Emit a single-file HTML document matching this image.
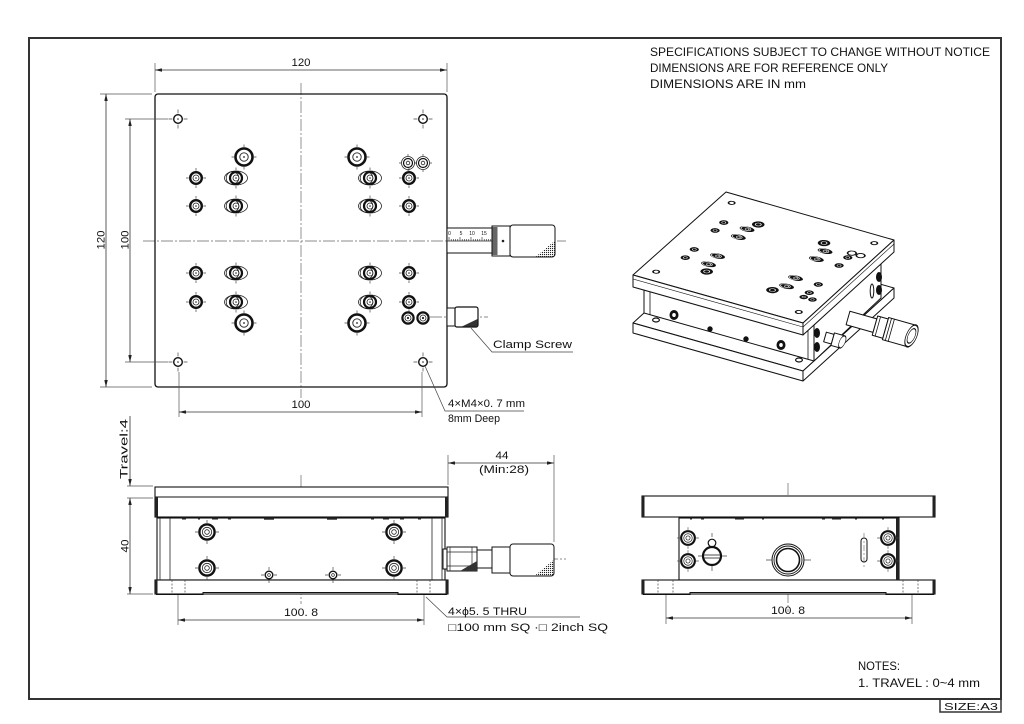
<!DOCTYPE html>
<html><head><meta charset="utf-8">
<style>
html,body{margin:0;padding:0;background:#fff;}
svg{display:block;}
text{font-family:"Liberation Sans","DejaVu Sans",sans-serif;fill:#111;}
</style></head><body>
<svg width="1024" height="724" viewBox="0 0 1024 724" xmlns="http://www.w3.org/2000/svg" xmlns:xlink="http://www.w3.org/1999/xlink">
<defs>
 <marker id="ar" viewBox="0 0 8 4" refX="8" refY="2" markerWidth="7" markerHeight="3.5" markerUnits="userSpaceOnUse" orient="auto-start-reverse"><path d="M0 0L8 2L0 4z" fill="#222"/></marker>
 <pattern id="kn" width="2" height="2" patternUnits="userSpaceOnUse"><rect width="1.1" height="1.1" fill="#222"/></pattern>
 <g id="hA" fill="none">
  <circle r="8.5" stroke="#111" stroke-width="2.6"/>
  <circle r="4.2" stroke="#222" stroke-width="0.9"/>
  <circle r="0.9" fill="#222"/>
  <path d="M-12.5 0H-9.8M9.8 0H12.5M0 -12.5V-9.8M0 9.8V12.5" stroke="#444" stroke-width="0.7"/>
 </g>
 <g id="hB" fill="none">
  <circle r="5.8" stroke="#111" stroke-width="2.4"/>
  <circle r="3" stroke="#222" stroke-width="0.8"/>
  <circle r="0.8" fill="#222"/>
  <path d="M-10 0H-7.3M7.3 0H10M0 -10V-7.3M0 7.3V10" stroke="#444" stroke-width="0.7"/>
 </g>
 <g id="hC" fill="none">
  <ellipse rx="11.5" ry="7" stroke="#222" stroke-width="0.8"/>
  <circle cx="-3.5" r="6.3" stroke="#222" stroke-width="0.8"/>
  <circle r="6" stroke="#111" stroke-width="2.2"/>
  <circle r="3" stroke="#222" stroke-width="0.8"/>
  <circle r="0.8" fill="#222"/>
  <path d="M0 -10.5V-8M0 8V10.5" stroke="#444" stroke-width="0.7"/>
 </g>
 <g id="hD" fill="none">
  <circle r="4.3" stroke="#111" stroke-width="1.4"/>
  <circle r="0.8" fill="#222"/>
  <path d="M-9.5 0H-5.6M5.6 0H9.5M0 -9.5V-5.6M0 5.6V9.5" stroke="#444" stroke-width="0.7"/>
 </g>
 <g id="hE" fill="none">
  <circle r="6.5" stroke="#222" stroke-width="0.8"/>
  <circle r="4.5" stroke="#111" stroke-width="1.2"/>
  <circle r="1.8" stroke="#222" stroke-width="0.8"/>
  <path d="M-9 0H-7M7 0H9M0 -9V-7M0 7V9" stroke="#444" stroke-width="0.7"/>
 </g>
 <g id="hF" fill="none">
  <circle r="5.6" stroke="#111" stroke-width="2.2"/>
  <circle r="3" stroke="#222" stroke-width="0.8"/>
  <circle r="1.1" fill="#222"/>
 </g>
 <g id="hS" fill="none">
  <circle r="7.6" stroke="#111" stroke-width="2.4"/>
  <circle r="4.7" stroke="#222" stroke-width="0.8"/>
  <circle r="2.3" stroke="#222" stroke-width="0.8"/>
  <path d="M-12 0H-9M9 0H12M0 -12V-9M0 9V12" stroke="#444" stroke-width="0.7"/>
 </g>
 <g id="hs" fill="none">
  <circle r="3.8" stroke="#111" stroke-width="1.4"/>
  <circle r="1.4" stroke="#222" stroke-width="0.7"/>
  <path d="M-8 0H-5M5 0H8M0 -8V-5M0 5V8" stroke="#444" stroke-width="0.7"/>
 </g>
 <g id="iA"><circle r="9.5" fill="#111"/><circle r="4.5" fill="none" stroke="#fff" stroke-width="1.4"/></g>
 <g id="iB"><circle r="7" fill="#111"/><circle r="3" fill="none" stroke="#fff" stroke-width="1.2"/></g>
 <g id="iC"><ellipse rx="12" ry="7.5" fill="#111"/><ellipse cx="-2" rx="8" ry="5.5" fill="none" stroke="#fff" stroke-width="1.2"/><circle r="3" fill="none" stroke="#fff" stroke-width="1.2"/></g>
 <g id="iD"><circle r="4.8" fill="#fff" stroke="#111" stroke-width="2.6"/></g>
 <g id="iE"><circle r="6.5" fill="#fff" stroke="#111" stroke-width="2.6"/></g>
 <g id="iF"><circle r="6.5" fill="#111"/><circle r="2.5" fill="none" stroke="#fff" stroke-width="1"/></g>
</defs>

<!-- Frame -->
<rect x="29" y="38" width="972" height="661" fill="none" stroke="#333" stroke-width="2"/>
<rect x="940" y="699" width="61" height="13" fill="none" stroke="#333" stroke-width="1.5"/>
<text x="944" y="710" font-size="10.5" textLength="54" lengthAdjust="spacingAndGlyphs">SIZE:A3</text>

<!-- Header text -->
<text x="650" y="56" font-size="12" textLength="340" lengthAdjust="spacingAndGlyphs">SPECIFICATIONS SUBJECT TO CHANGE WITHOUT NOTICE</text>
<text x="650" y="72" font-size="12" textLength="238" lengthAdjust="spacingAndGlyphs">DIMENSIONS ARE FOR REFERENCE ONLY</text>
<text x="650" y="88" font-size="12" textLength="156" lengthAdjust="spacingAndGlyphs">DIMENSIONS ARE IN mm</text>

<!-- Notes -->
<text x="858" y="670" font-size="11.5" textLength="42" lengthAdjust="spacingAndGlyphs">NOTES:</text>
<text x="858" y="687" font-size="11.5" textLength="122" lengthAdjust="spacingAndGlyphs">1. TRAVEL : 0~4 mm</text>

<!-- ================= TOP VIEW ================= -->
<g stroke="#666" stroke-width="0.7" fill="none" stroke-dasharray="12 2 2 2">
 <line x1="301" y1="83" x2="301" y2="398"/>
 <line x1="143" y1="241" x2="566" y2="241"/>
 <line x1="430" y1="317" x2="488" y2="317"/>
</g>
<rect x="155" y="94" width="292" height="293" rx="3" fill="none" stroke="#111" stroke-width="1.3"/>

<!-- dimensions top view -->
<g stroke="#555" stroke-width="0.7" fill="none">
 <line x1="155" y1="63" x2="155" y2="92"/>
 <line x1="447" y1="63" x2="447" y2="92"/>
 <line x1="100" y1="94" x2="152" y2="94"/>
 <line x1="100" y1="387" x2="152" y2="387"/>
 <line x1="125" y1="119" x2="168" y2="119"/>
 <line x1="125" y1="362" x2="168" y2="362"/>
 <line x1="179" y1="372" x2="179" y2="417"/>
 <line x1="422" y1="372" x2="422" y2="417"/>
</g>
<g stroke="#333" stroke-width="0.8" fill="none">
 <line x1="155" y1="70" x2="447" y2="70" marker-start="url(#ar)" marker-end="url(#ar)"/>
 <line x1="106" y1="94" x2="106" y2="387" marker-start="url(#ar)" marker-end="url(#ar)"/>
 <line x1="130" y1="119" x2="130" y2="362" marker-start="url(#ar)" marker-end="url(#ar)"/>
 <line x1="179" y1="412" x2="422" y2="412" marker-start="url(#ar)" marker-end="url(#ar)"/>
</g>
<text x="301" y="66" font-size="11" text-anchor="middle" textLength="19" lengthAdjust="spacingAndGlyphs">120</text>
<text transform="translate(104.5,240) rotate(-90)" font-size="11" text-anchor="middle" textLength="19" lengthAdjust="spacingAndGlyphs">120</text>
<text transform="translate(128.5,240) rotate(-90)" font-size="11" text-anchor="middle" textLength="19" lengthAdjust="spacingAndGlyphs">100</text>
<text x="301" y="408" font-size="11" text-anchor="middle" textLength="19" lengthAdjust="spacingAndGlyphs">100</text>

<!-- holes top view -->
<use xlink:href="#hA" x="244" y="157"/><use xlink:href="#hA" x="244" y="323"/>
<use xlink:href="#hA" x="357" y="157"/><use xlink:href="#hA" x="357" y="323"/>
<use xlink:href="#hB" x="196" y="178"/><use xlink:href="#hB" x="196" y="206"/>
<use xlink:href="#hB" x="196" y="273"/><use xlink:href="#hB" x="196" y="302"/>
<use xlink:href="#hB" x="409" y="178"/><use xlink:href="#hB" x="409" y="206"/>
<use xlink:href="#hB" x="409" y="273"/><use xlink:href="#hB" x="409" y="302"/>
<use xlink:href="#hC" x="236" y="178"/><use xlink:href="#hC" x="236" y="206"/>
<use xlink:href="#hC" x="236" y="273"/><use xlink:href="#hC" x="236" y="302"/>
<use xlink:href="#hC" x="370" y="178"/><use xlink:href="#hC" x="370" y="206"/>
<use xlink:href="#hC" x="370" y="273"/><use xlink:href="#hC" x="370" y="302"/>
<use xlink:href="#hD" x="178" y="119"/><use xlink:href="#hD" x="423" y="119"/>
<use xlink:href="#hD" x="178" y="362"/><use xlink:href="#hD" x="423" y="362"/>
<use xlink:href="#hE" x="408" y="163"/><use xlink:href="#hE" x="423" y="163"/>
<use xlink:href="#hF" x="408" y="318"/><use xlink:href="#hF" x="423" y="318"/>

<!-- leader M4 -->
<path d="M425 366 L445 411 H524" fill="none" stroke="#444" stroke-width="0.7"/>
<text x="448" y="407" font-size="11" textLength="77" lengthAdjust="spacingAndGlyphs">4×M4×0. 7 mm</text>
<text x="448" y="422" font-size="11" textLength="52" lengthAdjust="spacingAndGlyphs">8mm Deep</text>

<!-- micrometer top view -->
<g stroke="#111" stroke-width="1" fill="#fff">
 <rect x="447" y="228" width="45" height="25"/>
 <rect x="492" y="226" width="18" height="30"/>
 <rect x="510" y="225" width="45" height="32" rx="3"/>
</g>
<rect x="492.5" y="227" width="5" height="28" fill="#666"/>
<line x1="492" y1="226" x2="492" y2="256" stroke="#111" stroke-width="1"/>
<circle cx="503" cy="241" r="1.3" fill="#222"/>
<polygon points="536,256.5 554.5,256.5 554.5,241" fill="url(#kn)"/>
<line x1="447" y1="241" x2="492" y2="241" stroke="#222" stroke-width="0.8"/>
<path d="M449 241V237M451.2 241V239M453.4 241V239M455.6 241V239M457.8 241V239M460 241V237M462.2 241V239M464.4 241V239M466.6 241V239M468.8 241V239M471 241V237M473.2 241V239M475.4 241V239M477.6 241V239M479.8 241V239M482 241V237M484.2 241V239M486.4 241V239M488.6 241V239M490.8 241V239" stroke="#222" stroke-width="0.6"/>
<g font-size="5" text-anchor="middle">
 <text x="449.5" y="235">0</text><text x="461" y="235">5</text><text x="472" y="235">10</text><text x="484" y="235">15</text>
</g>

<!-- clamp screw top view -->
<rect x="447" y="308" width="8" height="18" fill="#fff" stroke="#111" stroke-width="1"/>
<rect x="455" y="307" width="23" height="20" rx="2" fill="#fff" stroke="#111" stroke-width="1.2"/>
<polygon points="462,326.5 477.5,326.5 477.5,319" fill="#333"/>
<path d="M471 328 L492 352 H573" fill="none" stroke="#444" stroke-width="0.7"/>
<text x="493" y="348" font-size="11" textLength="79" lengthAdjust="spacingAndGlyphs">Clamp Screw</text>

<!-- ================= FRONT VIEW ================= -->
<g stroke="#666" stroke-width="0.7" fill="none" stroke-dasharray="12 2 2 2">
 <line x1="301" y1="475" x2="301" y2="604"/>
 <line x1="438" y1="559" x2="566" y2="559"/>
</g>
<g stroke="#555" stroke-width="0.7" fill="none">
 <line x1="127" y1="486" x2="153" y2="486"/>
 <line x1="127" y1="498" x2="153" y2="498"/>
 <line x1="127" y1="594" x2="153" y2="594"/>
 <line x1="178" y1="575" x2="178" y2="625"/>
 <line x1="424" y1="575" x2="424" y2="625"/>
 <line x1="448" y1="455" x2="448" y2="485"/>
 <line x1="554" y1="455" x2="554" y2="542"/>
</g>
<g stroke="#333" stroke-width="0.8" fill="none">
 <line x1="130" y1="416" x2="130" y2="486" marker-end="url(#ar)"/>
 <line x1="130" y1="498" x2="130" y2="594" marker-start="url(#ar)" marker-end="url(#ar)"/>
 <line x1="178" y1="620" x2="424" y2="620" marker-start="url(#ar)" marker-end="url(#ar)"/>
 <line x1="448" y1="463" x2="554" y2="463" marker-start="url(#ar)" marker-end="url(#ar)"/>
</g>
<text transform="translate(127.5,449) rotate(-90)" font-size="11" text-anchor="middle" textLength="60" lengthAdjust="spacingAndGlyphs">Travel:4</text>
<text transform="translate(128.5,546) rotate(-90)" font-size="11" text-anchor="middle" textLength="13" lengthAdjust="spacingAndGlyphs">40</text>
<text x="301" y="616" font-size="11" text-anchor="middle" textLength="34" lengthAdjust="spacingAndGlyphs">100. 8</text>
<text x="502" y="459" font-size="11" text-anchor="middle" textLength="13" lengthAdjust="spacingAndGlyphs">44</text>
<text x="504" y="473" font-size="11" text-anchor="middle" textLength="50" lengthAdjust="spacingAndGlyphs">(Min:28)</text>

<g stroke="#111" stroke-width="1.1" fill="#fff">
 <rect x="155" y="487" width="293" height="30"/>
 <rect x="157" y="518" width="288" height="62"/>
 <rect x="155" y="580" width="293" height="14"/>
</g>
<line x1="155" y1="497" x2="448" y2="497" stroke="#111" stroke-width="1"/>
<g fill="#222">
 <rect x="155" y="497" width="3" height="20"/><rect x="445" y="497" width="3" height="20"/>
 <rect x="155" y="580" width="2.5" height="14"/><rect x="445.5" y="580" width="2.5" height="14"/>
 <rect x="182" y="517.5" width="4" height="2"/><rect x="198" y="517.5" width="2" height="2"/>
 <rect x="212" y="517.5" width="6" height="2"/><rect x="228" y="517.5" width="3" height="2"/>
 <rect x="264" y="517.5" width="10" height="2.2"/><rect x="327" y="517.5" width="10" height="2.2"/>
 <rect x="371" y="517.5" width="3" height="2"/><rect x="383" y="517.5" width="6" height="2"/>
 <rect x="400" y="517.5" width="4" height="2"/><rect x="418" y="517.5" width="3" height="2"/>
</g>
<g stroke="#222" stroke-width="0.8">
 <line x1="160" y1="518" x2="160" y2="580"/><line x1="170" y1="518" x2="170" y2="580"/>
 <line x1="432" y1="518" x2="432" y2="580"/><line x1="442" y1="518" x2="442" y2="580"/>
</g>
<path d="M156 594.5H203V592.5H398V594.5H447" fill="none" stroke="#111" stroke-width="1"/>
<g stroke="#444" stroke-width="0.7" stroke-dasharray="2 1.5">
 <line x1="172" y1="580" x2="172" y2="594"/><line x1="185" y1="580" x2="185" y2="594"/>
 <line x1="417" y1="580" x2="417" y2="594"/><line x1="430" y1="580" x2="430" y2="594"/>
</g>
<use xlink:href="#hS" x="207" y="532"/><use xlink:href="#hS" x="207" y="568"/>
<use xlink:href="#hS" x="394" y="532"/><use xlink:href="#hS" x="394" y="568"/>
<use xlink:href="#hs" x="269" y="575"/><use xlink:href="#hs" x="333" y="575"/>

<!-- micrometer front view -->
<g stroke="#111" stroke-width="1" fill="#fff">
 <rect x="443" y="549" width="4" height="20"/>
 <rect x="447" y="547" width="30" height="24"/>
 <rect x="477" y="550" width="15" height="18"/>
 <rect x="492" y="547" width="18" height="26"/>
 <rect x="510" y="544" width="44" height="32" rx="3"/>
</g>
<g stroke="#222" stroke-width="0.7">
 <line x1="450" y1="547" x2="450" y2="571"/><line x1="472" y1="547" x2="472" y2="571"/>
 <line x1="447" y1="552" x2="477" y2="552"/><line x1="447" y1="566" x2="477" y2="566"/>
</g>
<polygon points="460,571 477,571 477,561" fill="#333"/>
<polygon points="535,575.5 553.5,575.5 553.5,560" fill="url(#kn)"/>
<path d="M426 597 L447 617 H580" fill="none" stroke="#444" stroke-width="0.7"/>
<text x="448" y="615" font-size="11" textLength="79" lengthAdjust="spacingAndGlyphs">4×ϕ5. 5 THRU</text>
<text x="448" y="631" font-size="11" textLength="160" lengthAdjust="spacingAndGlyphs">□100 mm SQ ·□ 2inch SQ</text>

<!-- ================= SIDE VIEW ================= -->
<g stroke="#666" stroke-width="0.7" fill="none" stroke-dasharray="12 2 2 2">
 <line x1="788" y1="483" x2="788" y2="612"/>
</g>
<g stroke="#555" stroke-width="0.7" fill="none">
 <line x1="666" y1="586" x2="666" y2="624"/>
 <line x1="912" y1="586" x2="912" y2="624"/>
</g>
<line x1="666" y1="618" x2="912" y2="618" stroke="#333" stroke-width="0.8" marker-start="url(#ar)" marker-end="url(#ar)"/>
<text x="788" y="614" font-size="11" text-anchor="middle" textLength="34" lengthAdjust="spacingAndGlyphs">100. 8</text>
<g stroke="#111" stroke-width="1.1" fill="#fff">
 <rect x="642" y="496" width="293" height="21"/>
 <rect x="679" y="518" width="220" height="62"/>
 <rect x="642" y="580" width="293" height="14"/>
</g>
<g fill="#222">
 <rect x="642" y="496" width="2.5" height="21"/><rect x="932.5" y="496" width="2.5" height="21"/>
 <rect x="896" y="518" width="3" height="62"/>
 <rect x="642" y="580" width="2.5" height="14"/><rect x="932.5" y="580" width="2.5" height="14"/>
 <rect x="690" y="517.5" width="2" height="2"/><rect x="701" y="517.5" width="3" height="2"/>
 <rect x="735" y="517.5" width="9" height="2"/><rect x="762" y="517.5" width="2" height="2"/>
 <rect x="822" y="517.5" width="3" height="2"/><rect x="832" y="517.5" width="9" height="2"/>
 <rect x="855" y="517.5" width="2" height="2"/><rect x="882" y="517.5" width="2" height="2"/>
</g>
<path d="M643 594.5H690V592.5H886V594.5H934" fill="none" stroke="#111" stroke-width="1"/>
<g stroke="#444" stroke-width="0.7" stroke-dasharray="2 1.5">
 <line x1="658" y1="580" x2="658" y2="594"/><line x1="673" y1="580" x2="673" y2="594"/>
 <line x1="903" y1="580" x2="903" y2="594"/><line x1="918" y1="580" x2="918" y2="594"/>
</g>
<use xlink:href="#hS" x="688" y="538" transform="translate(688,538) scale(0.9) translate(-688,-538)"/>
<use xlink:href="#hS" x="688" y="561" transform="translate(688,561) scale(0.9) translate(-688,-561)"/>
<use xlink:href="#hS" x="888" y="538" transform="translate(888,538) scale(0.9) translate(-888,-538)"/>
<use xlink:href="#hS" x="888" y="561" transform="translate(888,561) scale(0.9) translate(-888,-561)"/>
<!-- clamp feature -->
<circle cx="712" cy="543" r="3.8" fill="#fff" stroke="#111" stroke-width="1.2"/>
<circle cx="712" cy="556" r="9" fill="#fff" stroke="#111" stroke-width="2.2"/>
<line x1="703" y1="555" x2="721" y2="555" stroke="#111" stroke-width="0.8"/>
<line x1="703" y1="558" x2="721" y2="558" stroke="#111" stroke-width="0.8"/>
<path d="M698 556H702M722 556H727M712 533V537M712 566V571" stroke="#444" stroke-width="0.7"/>
<!-- micrometer hole -->
<circle cx="788" cy="560" r="16" fill="none" stroke="#111" stroke-width="1"/>
<circle cx="788" cy="560" r="14" fill="none" stroke="#111" stroke-width="0.9"/>
<circle cx="788" cy="560" r="11.5" fill="none" stroke="#111" stroke-width="1.6"/>
<path d="M766 560H772M804 560H811" stroke="#444" stroke-width="0.7"/>
<!-- slot -->
<rect x="861" y="538" width="6" height="24" rx="3" fill="#fff" stroke="#111" stroke-width="1"/>
<path d="M864 533V567" stroke="#666" stroke-width="0.6" stroke-dasharray="6 2 2 2"/>

<!-- ================= ISOMETRIC ================= -->
<g stroke="#111" stroke-width="1" stroke-linejoin="round" fill="#fff">
 <!-- base -->
 <polygon points="633,323 724,240 894,288 803,371"/>
 <polygon points="633,323 803,371 803,381 633,333"/>
 <polygon points="803,371 894,288 894,298 803,381"/>
 <ellipse cx="656" cy="320" rx="3.4" ry="2" stroke-width="1.2"/>
 <ellipse cx="799" cy="360" rx="3.4" ry="2" stroke-width="1.2"/>
 <!-- body -->
 <polygon points="644,277 814,325 814,361 644,313"/>
 <polygon points="814,325 881,262 881,298 814,361"/>
 <line x1="650" y1="290" x2="650" y2="315" stroke-width="0.8"/>
 <line x1="808" y1="330" x2="808" y2="359" stroke-width="0.8"/>
 <!-- body holes -->
 <ellipse cx="674" cy="315" rx="4" ry="4.5" fill="#111"/>
 <ellipse cx="674" cy="315" rx="1.8" ry="2" fill="#fff" stroke="none"/>
 <ellipse cx="781" cy="345" rx="4" ry="4.5" fill="#111"/>
 <ellipse cx="781" cy="345" rx="1.8" ry="2" fill="#fff" stroke="none"/>
 <circle cx="710" cy="329" r="2.2" fill="#111"/>
 <circle cx="746" cy="339" r="2.2" fill="#111"/>
 <ellipse cx="879" cy="277" rx="2.5" ry="4.5" fill="#111"/>
 <ellipse cx="879" cy="290" rx="2.5" ry="4.5" fill="#111"/>
 <ellipse cx="817" cy="333" rx="2.5" ry="4.5" fill="#111"/>
 <ellipse cx="817" cy="347" rx="2.5" ry="4.5" fill="#111"/>
 <ellipse cx="872" cy="291" rx="1.8" ry="7" stroke-width="1"/>
 <!-- clamp -->
 <g transform="translate(825,337) rotate(15.77)">
  <rect x="0" y="-5" width="8" height="10"/>
  <rect x="8" y="-6.5" width="10" height="13"/>
 </g>
 <circle r="5" transform="matrix(0.74 -0.675 0 1 842.3 341.9)"/>
 <!-- micrometer -->
 <g transform="translate(848,318) rotate(15.77)">
  <rect x="0" y="-7" width="28" height="14"/>
  <rect x="28" y="-10" width="11" height="20"/>
  <rect x="39" y="-11.5" width="27" height="23"/>
  <line x1="42" y1="-11.5" x2="42" y2="11.5" stroke-width="0.8"/>
  <line x1="45" y1="-11.5" x2="45" y2="11.5" stroke-width="0.8"/>
  <line x1="31" y1="-10" x2="31" y2="10" stroke-width="0.8"/>
 </g>
 <circle r="9" transform="matrix(0.74 -0.675 0 1 911.5 335.9)" stroke-width="1.3"/>
 <circle r="6" transform="matrix(0.74 -0.675 0 1 911.5 335.9)" stroke-width="1"/>
 <!-- top plate -->
 <polygon points="633,275 726,192 894,240 803,323"/>
 <polygon points="633,275 803,323 803,335 633,287"/>
 <polygon points="803,323 894,240 894,252 803,335"/>
 <polyline points="633,279 803,327 894,244" fill="none" stroke-width="0.6"/>
</g>
<g transform="matrix(0.5822 0.1644 -0.3106 0.2833 664.96 139.89)">
 <use xlink:href="#iA" x="244" y="157"/><use xlink:href="#iA" x="244" y="323"/>
 <use xlink:href="#iA" x="357" y="157"/><use xlink:href="#iA" x="357" y="323"/>
 <use xlink:href="#iB" x="196" y="178"/><use xlink:href="#iB" x="196" y="206"/>
 <use xlink:href="#iB" x="196" y="273"/><use xlink:href="#iB" x="196" y="302"/>
 <use xlink:href="#iB" x="409" y="178"/><use xlink:href="#iB" x="409" y="206"/>
 <use xlink:href="#iB" x="409" y="273"/><use xlink:href="#iB" x="409" y="302"/>
 <use xlink:href="#iC" x="236" y="178"/><use xlink:href="#iC" x="236" y="206"/>
 <use xlink:href="#iC" x="236" y="273"/><use xlink:href="#iC" x="236" y="302"/>
 <use xlink:href="#iC" x="370" y="178"/><use xlink:href="#iC" x="370" y="206"/>
 <use xlink:href="#iC" x="370" y="273"/><use xlink:href="#iC" x="370" y="302"/>
 <use xlink:href="#iD" x="178" y="119"/><use xlink:href="#iD" x="423" y="119"/>
 <use xlink:href="#iD" x="178" y="362"/><use xlink:href="#iD" x="423" y="362"/>
 <use xlink:href="#iE" x="408" y="163"/><use xlink:href="#iE" x="423" y="163"/>
 <use xlink:href="#iF" x="408" y="318"/><use xlink:href="#iF" x="423" y="318"/>
</g>
</svg>
</body></html>
